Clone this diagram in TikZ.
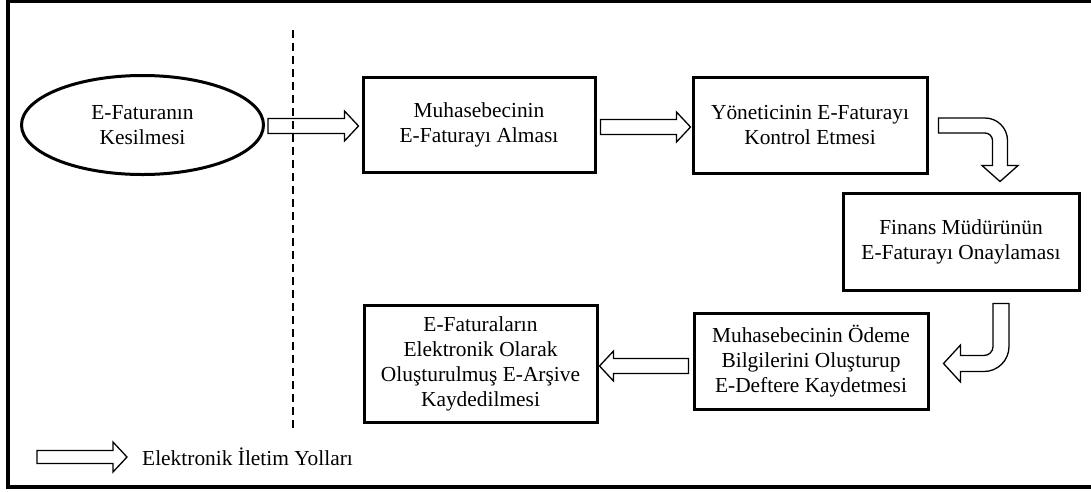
\documentclass[tikz,border=0pt]{standalone}
\usepackage{fontspec}
\setmainfont{Liberation Serif}
\usetikzlibrary{calc,shapes.geometric}

\tikzset{
  stepbox/.style={draw, line width=3pt, align=center, inner sep=0pt,
    font=\fontsize{21.4}{25}\selectfont},
  startoval/.style={ellipse, draw, line width=3pt, align=center, inner sep=0pt,
    font=\fontsize{21.4}{25}\selectfont},
  barrow/.style={draw, line width=1.3pt, fill=white, line join=miter},
  sepline/.style={line width=2pt, dash pattern=on 8pt off 5pt},
  frameline/.style={line width=4pt},
}

% horizontal block arrow: #1 tail, #2 tip (same height)
\newcommand{\hblock}[2]{%
  \draw[barrow] let \p1=(#1), \p2=(#2), \n1={ifthenelse(\x2>\x1,1,-1)} in
    (\x1,\y1+7.5pt) -- (\x2-\n1*14pt,\y1+7.5pt) -- (\x2-\n1*14pt,\y1+15pt)
    -- (\x2,\y1) -- (\x2-\n1*14pt,\y1-15pt) -- (\x2-\n1*14pt,\y1-7.5pt)
    -- (\x1,\y1-7.5pt) -- cycle;}

\begin{document}
\begin{tikzpicture}[x=1pt,y=-1pt]
  \useasboundingbox (0,0) rectangle (1091,491);
  \clip (0,0) rectangle (1091,491);

  % outer frame
  \draw[frameline] (8,1) rectangle (1110,487);

  % boundary of the electronic transfer zone
  \coordinate (d1) at (293,30);
  \coordinate (d2) at (293,432);

  % process steps
  \node[startoval, minimum width=242pt, minimum height=99pt] (e) at (142.5,125)
    {E-Faturanın\\Kesilmesi};
  \node[stepbox, minimum width=232pt, minimum height=95pt] (b1) at (479,124.5)
    {Muhasebecinin\\E-Faturayı Alması};
  \node[stepbox, minimum width=234pt, minimum height=96pt] (b2) at (810,125)
    {Yöneticinin E-Faturayı\\Kontrol Etmesi};
  \node[stepbox, minimum width=236pt, minimum height=97pt] (b3) at (961,241.5)
    {Finans Müdürünün\\E-Faturayı Onaylaması};
  \node[stepbox, minimum width=234pt, minimum height=96pt] (b4) at (811,361)
    {Muhasebecinin Ödeme\\Bilgilerini Oluşturup\\E-Deftere Kaydetmesi};
  \node[stepbox, minimum width=233pt, minimum height=117pt] (b5) at (480.5,363.5)
    {E-Faturaların\\Elektronik Olarak\\Oluşturulmuş E-Arşive\\Kaydedilmesi};

  % straight transfer arrows
  \hblock{$(e.east)+(3,1)$}{$(b1.west)+(-3,1)$}
  \hblock{$(b1.east)+(4,2.5)$}{$(b2.west)+(-1,2.5)$}
  \hblock{$(b4.west)+(-4,5)$}{$(b5.east)+(1,5)$}

  % bent arrow: control -> approval
  \coordinate (s4) at ($(b2.east)+(10,0.5)$);
  \coordinate (t4) at ($(b3.north)+(39,-10)$);
  \coordinate (k4) at (t4 |- s4);
  \draw[barrow] ($(s4)+(0,-7.5)$) -- ($(k4)+(-15,-7.5)$)
    arc[start angle=-90,end angle=0,radius=22.5]
    -- ($(t4)+(7.5,-16)$) -- ($(t4)+(18,-16)$) -- (t4)
    -- ($(t4)+(-18,-16)$) -- ($(t4)+(-7.5,-16)$) -- ($(k4)+(-7.5,15)$)
    arc[start angle=0,end angle=-90,radius=7.5]
    -- ($(s4)+(0,7.5)$) -- cycle;

  % bent arrow: approval -> bookkeeping
  \coordinate (s5) at ($(b3.south)+(40,12)$);
  \coordinate (t5) at ($(b4.east)+(14,2.5)$);
  \coordinate (k5) at (s5 |- t5);
  \draw[barrow] ($(s5)+(-8,0)$) -- ($(s5)+(8,0)$) -- ($(k5)+(8,-17)$)
    arc[start angle=0,end angle=90,radius=25]
    -- ($(t5)+(17,8)$) -- ($(t5)+(17,18.5)$) -- (t5)
    -- ($(t5)+(17,-18.5)$) -- ($(t5)+(17,-8)$) -- ($(k5)+(-17,-8)$)
    arc[start angle=90,end angle=0,radius=9]
    -- cycle;

  \draw[sepline] (d1) -- (d2);

  % legend
  \coordinate (l1) at (37,457);
  \coordinate (l2) at (127,457);
  \draw[barrow] ($(l1)+(0,-6.5)$) -- ($(l2)+(-14,-6.5)$) -- ($(l2)+(-14,-15)$)
    -- (l2) -- ($(l2)+(-14,15)$) -- ($(l2)+(-14,6.5)$) -- ($(l1)+(0,6.5)$) -- cycle;
  \node[anchor=west, inner sep=0pt, font=\fontsize{21.4}{25}\selectfont] (lt) at (142,457)
    {Elektronik İletim Yolları};
\end{tikzpicture}
\end{document}
